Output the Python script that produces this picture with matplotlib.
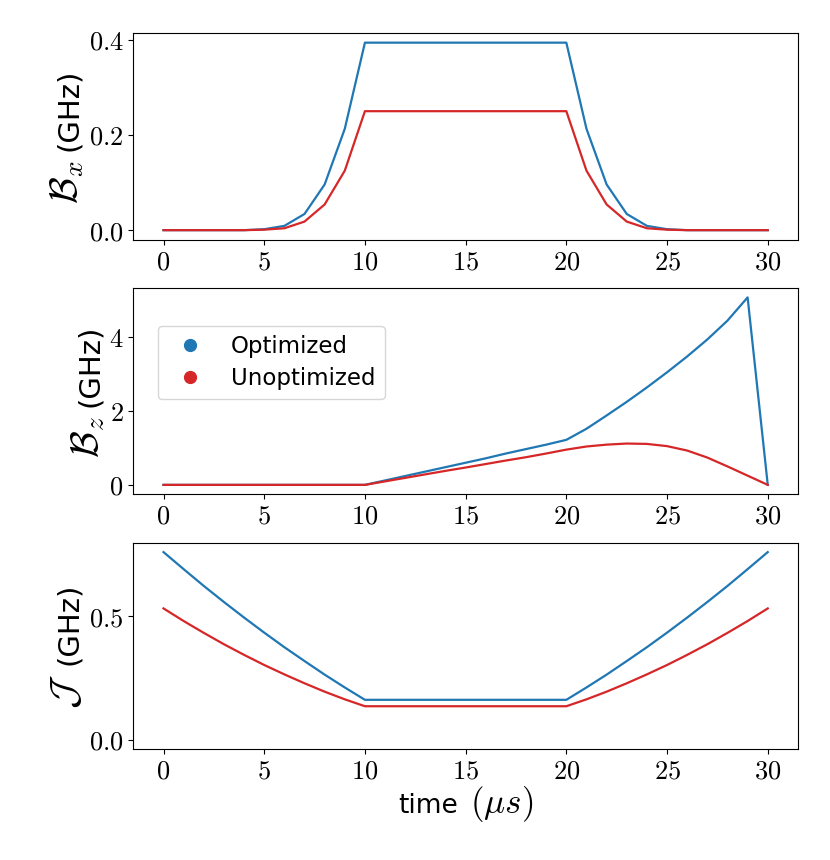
import matplotlib
matplotlib.use("Agg")
import matplotlib.pyplot as plt
import numpy as np
from matplotlib.lines import Line2D
from matplotlib.ticker import FuncFormatter
from matplotlib.transforms import IdentityTransform

plt.rcParams['mathtext.fontset'] = 'cm'

t = list(range(31))

# B_x pulse
bx_opt = [0, 0, 0, 0, 0, 0.002, 0.009, 0.034, 0.096, 0.213,
          0.394, 0.394, 0.394, 0.394, 0.394, 0.394, 0.394, 0.394, 0.394, 0.394, 0.394,
          0.213, 0.096, 0.034, 0.009, 0.002, 0, 0, 0, 0, 0]
bx_unopt = [0, 0, 0, 0, 0, 0.001, 0.004, 0.018, 0.054, 0.125,
            0.25, 0.25, 0.25, 0.25, 0.25, 0.25, 0.25, 0.25, 0.25, 0.25, 0.25,
            0.125, 0.054, 0.018, 0.004, 0.001, 0, 0, 0, 0, 0]

# B_z pulse
bz_opt = [0, 0, 0, 0, 0, 0, 0, 0, 0, 0, 0,
          0.12, 0.24, 0.36, 0.48, 0.60, 0.72, 0.85, 0.97, 1.09, 1.22,
          1.52, 1.88, 2.25, 2.64, 3.05, 3.48, 3.94, 4.45, 5.08, 0]
bz_unopt = [0, 0, 0, 0, 0, 0, 0, 0, 0, 0, 0,
            0.095, 0.19, 0.285, 0.38, 0.47, 0.565, 0.66, 0.75, 0.85, 0.955,
            1.04, 1.09, 1.12, 1.11, 1.05, 0.93, 0.74, 0.50, 0.25, 0]

# exchange J
j_opt_half = [0.759, 0.690, 0.622, 0.557, 0.494, 0.433, 0.374, 0.318, 0.263, 0.211]
j_unopt_half = [0.531, 0.480, 0.432, 0.386, 0.343, 0.302, 0.264, 0.228, 0.194, 0.163]
j_opt_flat = 0.161
j_unopt_flat = 0.135
j_opt = j_opt_half + [j_opt_flat] * 11 + j_opt_half[::-1]
j_unopt = j_unopt_half + [j_unopt_flat] * 11 + j_unopt_half[::-1]

c_opt = '#1f77b4'
c_unopt = '#d62728'

W, H = 830, 860
fig, axs = plt.subplots(3, 1, figsize=(W / 100, H / 100), dpi=100)
plt.subplots_adjust(left=0.1606, right=0.9614, top=0.9613, bottom=0.1291, hspace=0.235)

fs_tick = 19
fs_ylab = 21
fs_xlab = 19
math_scale = 1.33

axs[0].plot(t, bx_opt, color=c_opt, lw=1.6)
axs[0].plot(t, bx_unopt, color=c_unopt, lw=1.6)
axs[0].set_yticks([0.0, 0.2, 0.4])
axs[0].yaxis.set_major_formatter(FuncFormatter(lambda v, p: '$%.1f$' % v))

axs[1].plot(t, bz_opt, color=c_opt, lw=1.6)
axs[1].plot(t, bz_unopt, color=c_unopt, lw=1.6)
axs[1].set_yticks([0, 2, 4])
axs[1].yaxis.set_major_formatter(FuncFormatter(lambda v, p: '$%d$' % v))

handles = [Line2D([], [], color=c_opt, marker='o', ls='none', markersize=8.5),
           Line2D([], [], color=c_unopt, marker='o', ls='none', markersize=8.5)]
axs[1].legend(handles, ['Optimized', 'Unoptimized'], fontsize=16.5,
              loc='upper left', bbox_to_anchor=(0.037, 0.817), borderaxespad=0,
              labelspacing=0.4)

axs[2].plot(t, j_opt, color=c_opt, lw=1.6)
axs[2].plot(t, j_unopt, color=c_unopt, lw=1.6)
axs[2].set_ylim(-0.038, 0.797)
axs[2].set_yticks([0.0, 0.5])
axs[2].yaxis.set_major_formatter(FuncFormatter(lambda v, p: '$%.1f$' % v))

for ax in axs:
    ax.set_xticks([0, 5, 10, 15, 20, 25, 30])
    ax.xaxis.set_major_formatter(FuncFormatter(lambda v, p: '$%d$' % v))
    ax.tick_params(labelsize=fs_tick)

# labels: sans text plus a larger computer-modern math part
renderer = fig.canvas.get_renderer()


def ylabel_split(ax, math, words, base_x, gap=9):
    tm = fig.text(0, 0, math, fontsize=fs_ylab * math_scale, rotation=90,
                  rotation_mode='anchor', ha='left', va='baseline',
                  transform=IdentityTransform())
    tw = fig.text(0, 0, words, fontsize=fs_ylab, rotation=90,
                  rotation_mode='anchor', ha='left', va='baseline',
                  transform=IdentityTransform())
    lm = tm.get_window_extent(renderer).height
    lw_ = tw.get_window_extent(renderer).height
    bb = ax.get_window_extent(renderer)
    yc = (bb.y0 + bb.y1) / 2
    y0 = yc - (lm + gap + lw_) / 2
    tm.set_position((base_x, y0))
    tw.set_position((base_x, y0 + lm + gap))


ylabel_split(axs[0], r'$\mathcal{B}_x$', '(GHz)', 77)
ylabel_split(axs[1], r'$\mathcal{B}_z$', '(GHz)', 98.5)
ylabel_split(axs[2], r'$\mathcal{J}$', '(GHz)', 77)

tx = fig.text(0, 0, 'time', fontsize=fs_xlab, ha='left', va='baseline',
              transform=IdentityTransform())
tmu = fig.text(0, 0, r'$(\mu s)$', fontsize=fs_xlab * math_scale, ha='left',
               va='baseline', transform=IdentityTransform())
w1 = tx.get_window_extent(renderer).width
w2 = tmu.get_window_extent(renderer).width
bb = axs[2].get_window_extent(renderer)
xc = (bb.x0 + bb.x1) / 2
gap = 12
x0 = xc - (w1 + gap + w2) / 2
base_y = H - 813
tx.set_position((x0, base_y))
tmu.set_position((x0 + w1 + gap, base_y))

fig.savefig('out.png', dpi=100)
